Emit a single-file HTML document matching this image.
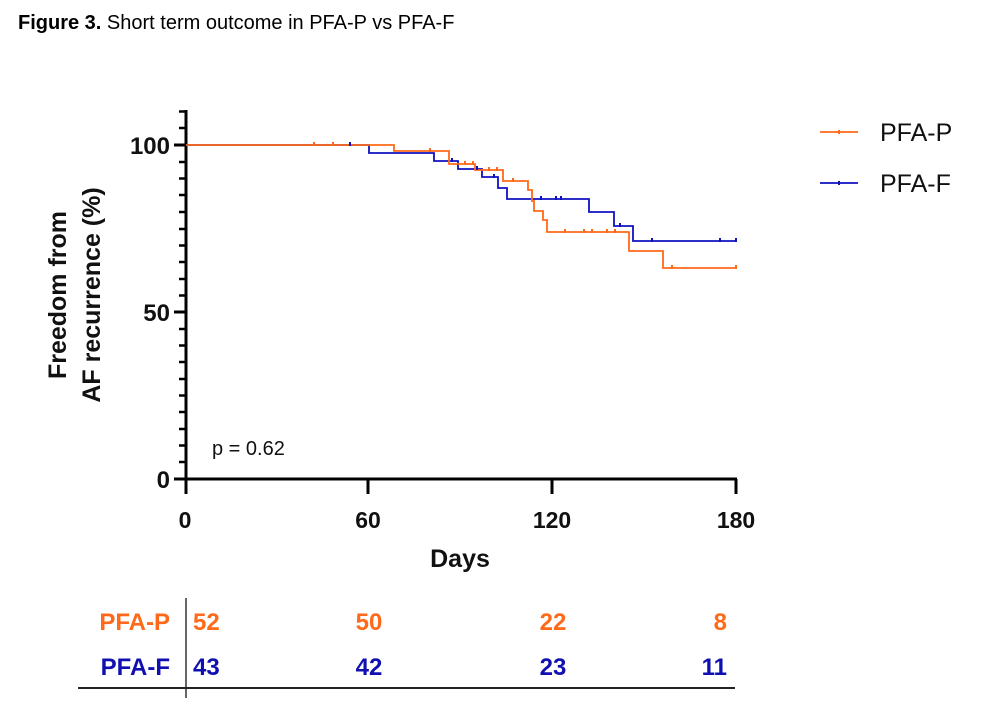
<!DOCTYPE html>
<html><head><meta charset="utf-8"><style>
body{margin:0;background:#fff;}
svg{display:block;font-family:"Liberation Sans",Arial,sans-serif;}
</style></head><body>
<svg width="982" height="702" viewBox="0 0 982 702" xmlns="http://www.w3.org/2000/svg">
<text x="18" y="29" font-size="20" fill="#000"><tspan font-weight="bold">Figure 3.</tspan> Short term outcome in PFA-P vs PFA-F</text>
<g stroke="#000" stroke-width="3" fill="none">
<line x1="186" y1="110" x2="186" y2="494"/>
<line x1="174" y1="479" x2="737" y2="479"/>
<line x1="174" y1="145" x2="186" y2="145"/>
<line x1="174" y1="312" x2="186" y2="312"/>
<line x1="368" y1="479" x2="368" y2="494"/>
<line x1="552" y1="479" x2="552" y2="494"/>
<line x1="736" y1="479" x2="736" y2="494"/>
</g>
<g stroke="#000" stroke-width="2.5">
<line x1="179" y1="111.5" x2="186" y2="111.5"/><line x1="179" y1="128" x2="186" y2="128"/>
<line x1="179" y1="162" x2="186" y2="162"/><line x1="179" y1="178.5" x2="186" y2="178.5"/>
<line x1="179" y1="195" x2="186" y2="195"/><line x1="179" y1="212" x2="186" y2="212"/>
<line x1="179" y1="229" x2="186" y2="229"/><line x1="179" y1="245.5" x2="186" y2="245.5"/>
<line x1="179" y1="262" x2="186" y2="262"/><line x1="179" y1="279" x2="186" y2="279"/>
<line x1="179" y1="295.5" x2="186" y2="295.5"/><line x1="179" y1="329" x2="186" y2="329"/>
<line x1="179" y1="345.5" x2="186" y2="345.5"/><line x1="179" y1="362" x2="186" y2="362"/>
<line x1="179" y1="379" x2="186" y2="379"/><line x1="179" y1="395.5" x2="186" y2="395.5"/>
<line x1="179" y1="412" x2="186" y2="412"/><line x1="179" y1="429" x2="186" y2="429"/>
<line x1="179" y1="445.5" x2="186" y2="445.5"/><line x1="179" y1="462" x2="186" y2="462"/>
</g>
<g font-size="24" font-weight="bold" fill="#111" text-anchor="end">
<text x="170" y="154">100</text><text x="170" y="321">50</text><text x="170" y="488">0</text>
</g>
<g font-size="23" font-weight="bold" fill="#111" text-anchor="middle">
<text x="185" y="528">0</text><text x="368" y="528">60</text><text x="552" y="528">120</text><text x="736" y="528">180</text>
<text x="460" y="567" font-size="25">Days</text>
</g>
<g font-size="25" font-weight="bold" fill="#111" text-anchor="middle">
<text transform="translate(66,295) rotate(-90)">Freedom from</text>
<text transform="translate(100,295) rotate(-90)">AF recurrence (%)</text>
</g>
<text x="212" y="455" font-size="20" fill="#111">p = 0.62</text>
<polyline fill="none" stroke="#1010c0" stroke-width="1.8" points="186,145 369,145 369,153 434,153 434,161 458,161 458,169 482,169 482,177 498,177 498,188 507,188 507,199 589,199 589,212 614,212 614,226 633,226 633,241 736,241"/>
<polyline fill="none" stroke="#ff6a1a" stroke-width="1.8" points="186,145 394,145 394,151 449,151 449,164 475,164 475,170 503,170 503,181 528,181 528,190 532,190 532,201 534,201 534,211 543,211 543,220 547,220 547,232 629,232 629,251 663,251 663,268 736,268"/>
<g stroke="#ff6a1a" stroke-width="2">
<line x1="314" y1="142" x2="314" y2="146"/><line x1="333" y1="142" x2="333" y2="146"/><line x1="430" y1="148" x2="430" y2="152"/>
<line x1="465" y1="161" x2="465" y2="165"/><line x1="473" y1="161" x2="473" y2="165"/><line x1="489" y1="167" x2="489" y2="171"/><line x1="497" y1="167" x2="497" y2="171"/>
<line x1="513" y1="178" x2="513" y2="182"/><line x1="565" y1="229" x2="565" y2="233"/><line x1="584" y1="229" x2="584" y2="233"/><line x1="592" y1="229" x2="592" y2="233"/><line x1="607" y1="229" x2="607" y2="233"/><line x1="615" y1="229" x2="615" y2="233"/><line x1="672" y1="265" x2="672" y2="269"/><line x1="736" y1="265" x2="736" y2="269"/>
</g>
<g stroke="#1010c0" stroke-width="2">
<line x1="350" y1="142" x2="350" y2="146"/><line x1="452" y1="158" x2="452" y2="162"/><line x1="477" y1="166" x2="477" y2="170"/><line x1="494" y1="174" x2="494" y2="178"/>
<line x1="541" y1="196" x2="541" y2="200"/><line x1="556" y1="196" x2="556" y2="200"/><line x1="561" y1="196" x2="561" y2="200"/><line x1="620" y1="223" x2="620" y2="227"/><line x1="652" y1="238" x2="652" y2="242"/><line x1="720" y1="238" x2="720" y2="242"/><line x1="736" y1="238" x2="736" y2="242"/>
</g>
<line x1="820" y1="132" x2="858" y2="132" stroke="#ff6a1a" stroke-width="1.8"/>
<line x1="839" y1="130" x2="839" y2="134" stroke="#ff6a1a" stroke-width="2"/>
<line x1="820" y1="183" x2="858" y2="183" stroke="#1010c0" stroke-width="1.8"/>
<line x1="839" y1="181" x2="839" y2="185" stroke="#1010c0" stroke-width="2"/>
<text x="880" y="141" font-size="25" fill="#111">PFA-P</text>
<text x="880" y="192" font-size="25" fill="#111">PFA-F</text>
<line x1="186" y1="598" x2="186" y2="698" stroke="#333" stroke-width="1.5"/>
<line x1="78" y1="688" x2="735" y2="688" stroke="#222" stroke-width="2"/>
<g font-size="24" font-weight="bold" fill="#ff6a1a">
<text x="170" y="630" text-anchor="end">PFA-P</text>
<text x="193" y="630">52</text><text x="369" y="630" text-anchor="middle">50</text><text x="553" y="630" text-anchor="middle">22</text><text x="727" y="630" text-anchor="end">8</text>
</g>
<g font-size="24" font-weight="bold" fill="#1010b0">
<text x="170" y="675" text-anchor="end">PFA-F</text>
<text x="193" y="675">43</text><text x="369" y="675" text-anchor="middle">42</text><text x="553" y="675" text-anchor="middle">23</text><text x="727" y="675" text-anchor="end">11</text>
</g>
</svg>
</body></html>
